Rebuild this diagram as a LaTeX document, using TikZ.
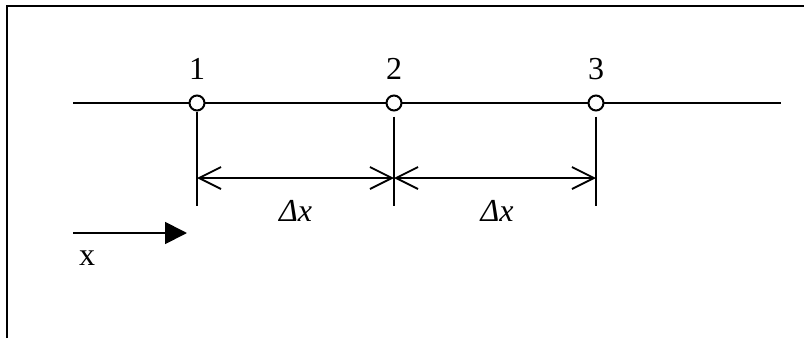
\documentclass[tikz,border=0pt]{standalone}
\usepackage{fontspec}
\setmainfont{Liberation Serif}
\usepackage{tikz}
\usetikzlibrary{positioning, calc, arrows.meta}

\tikzset{
  pnt/.style={circle, draw, fill=white, line width=1pt, minimum size=7.5pt, inner sep=0pt},
  lbl/.style={font=\fontsize{16}{18}\selectfont, inner sep=0pt},
  dim/.style={line width=0.9pt, {Straight Barb[length=11pt,width=11pt]}-{Straight Barb[length=11pt,width=11pt]}}
}

\begin{document}
\begin{tikzpicture}[x=0.5pt, y=-0.5pt, line width=0.9pt]
    \useasboundingbox (0,0) rectangle (804,338);
    % frame
    \draw[line width=1.2pt] (7,338) -- (7,6) -- (804,6);
    
    % axis with the three points
    \coordinate (la) at (73,103);
    \coordinate (lb) at (781,103);
    \draw (la) -- (lb);
    \node[pnt] (p1) at (197,103) {};
    \node[pnt] (p2) at (394,103) {};
    \node[pnt] (p3) at (596,103) {};
    \node[lbl, above=7pt of p1] (n1) {1};
    \node[lbl, above=7pt of p2] (n2) {2};
    \node[lbl, above=7pt of p3] (n3) {3};
    
    % extension lines
    \coordinate (e1) at (197,206);
    \coordinate (e2) at (394,206);
    \coordinate (e3) at (596,206);
    \draw (p1.south) -- (e1);
    \draw (p2.south) ++(0,5) -- (e2);
    \draw (p3.south) ++(0,5) -- (e3);
    
    % dimensions
    \coordinate (d1) at (197,178);
    \coordinate (d2) at (394,178);
    \coordinate (d3) at (596,178);
    \draw[dim] (d1) -- (d2);
    \draw[dim] (d2) -- (d3);
    \node[lbl, font=\fontsize{16}{18}\selectfont\itshape] (dx1) at ($(d1)!0.5!(d2)+(0,33)$) {Δx};
    \node[lbl, font=\fontsize{16}{18}\selectfont\itshape] (dx2) at ($(d2)!0.5!(d3)+(2,33)$) {Δx};
    
    % direction of x
    \coordinate (xa) at (73,233);
    \coordinate (xb) at (187,233);
    \draw[-{Triangle[length=11pt,width=11pt]}] (xa) -- (xb);
    \node[lbl] (xl) at (87,258) {x};
\end{tikzpicture}
\end{document}
